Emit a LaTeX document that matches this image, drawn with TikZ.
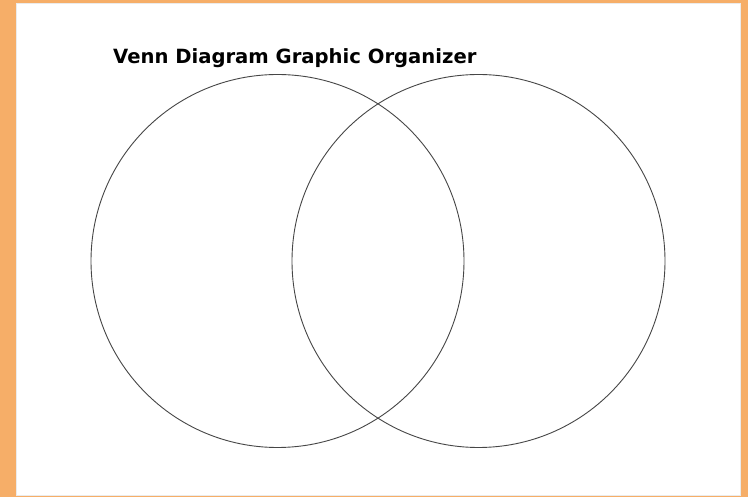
\documentclass[tikz,border=0pt]{standalone}
\usepackage{fontspec}
\setmainfont{DejaVu Sans}
\definecolor{frameorange}{RGB}{246,174,104}
\definecolor{ringgray}{RGB}{70,70,70}
\begin{document}
\begin{tikzpicture}[x=1pt,y=-1pt,
  ring/.style={circle,draw=ringgray,line width=0.9pt,minimum size=373pt,inner sep=0pt},
  title/.style={font=\bfseries\fontsize{19.6}{21}\selectfont,inner sep=0pt,anchor=base west}]
\fill[frameorange] (0,0) rectangle (748,497);
\fill[white] (16,3) rectangle (741,496);
\draw[black!8,line width=1pt] (16.5,3.5) rectangle (740.5,495.5);
\useasboundingbox (0,0) rectangle (748,497);
\node[ring] (left) at (277.5,261) {};
\node[ring] (right) at (478.5,261) {};
\node[title] (t) at (113,64) {Venn Diagram Graphic Organizer};
\end{tikzpicture}
\end{document}
